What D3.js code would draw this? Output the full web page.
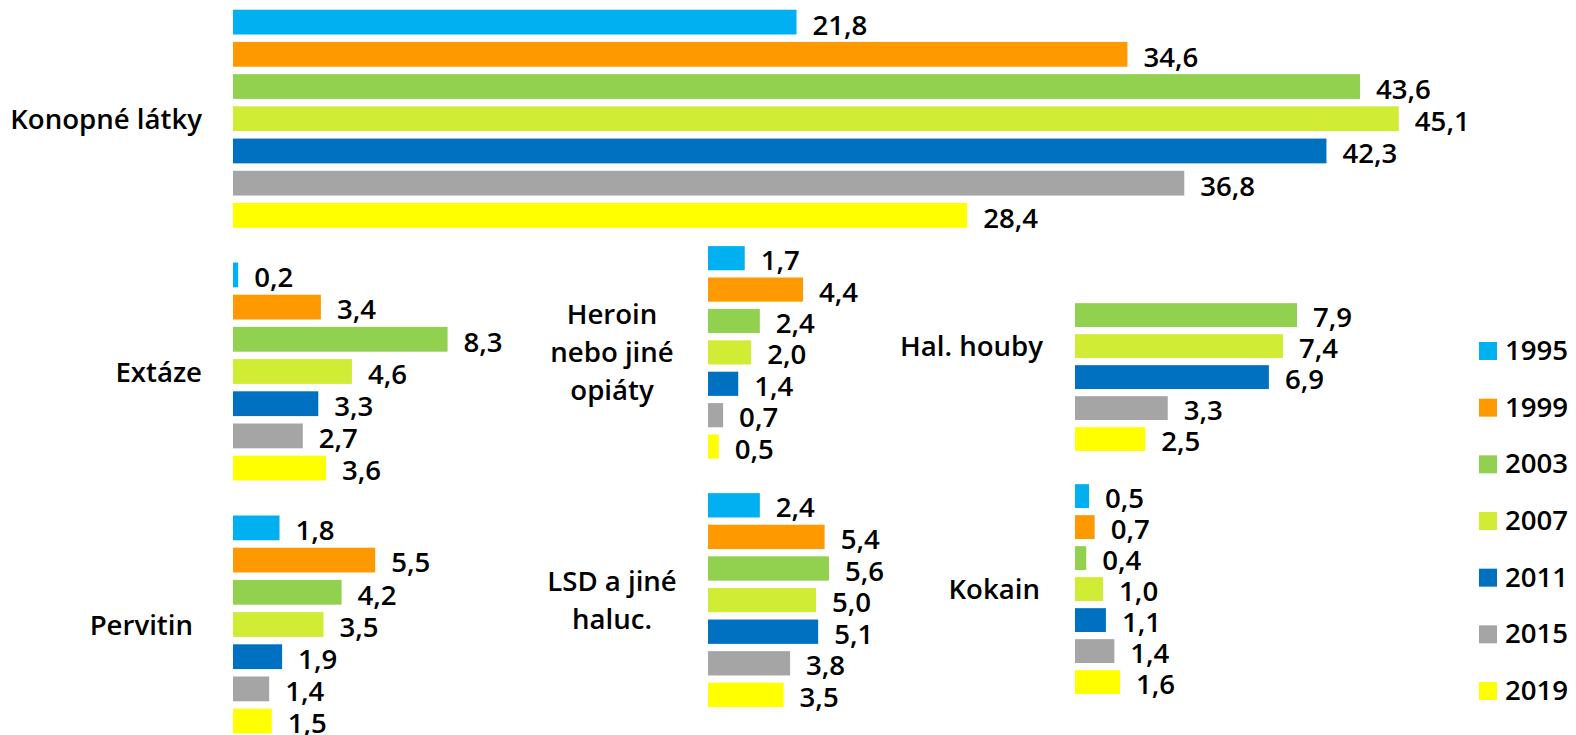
<!DOCTYPE html>
<html>
<head>
<meta charset="utf-8">
<script src="https://cdn.jsdelivr.net/npm/d3@7"></script>
<style>
  body { margin: 0; background: #fff; }
  svg text { font-family: "Open Sans", "Noto Sans", sans-serif; font-weight: 600; fill: #000; }
</style>
</head>
<body>
<div id="chart"></div>
<script>
const width = 1576,
  height = 735,
  fontSize = 27.6;

const years = ["1995", "1999", "2003", "2007", "2011", "2015", "2019"];
const colors = ["#00b0f0", "#ff9900", "#92d050", "#d0ec34", "#0070c0", "#a5a5a5", "#ffff00"];

const konopne = [21.8, 34.6, 43.6, 45.1, 42.3, 36.8, 28.4];
const extaze = [0.2, 3.4, 8.3, 4.6, 3.3, 2.7, 3.6];
const pervitin = [1.8, 5.5, 4.2, 3.5, 1.9, 1.4, 1.5];
const heroin = [1.7, 4.4, 2.4, 2.0, 1.4, 0.7, 0.5];
const lsd = [2.4, 5.4, 5.6, 5.0, 5.1, 3.8, 3.5];
const houby = [null, null, 7.9, 7.4, 6.9, 3.3, 2.5];
const kokain = [0.5, 0.7, 0.4, 1.0, 1.1, 1.4, 1.6];

// panel layout: x0 = bar start, k = px per unit, y range of the 7 year bands
const panels = [
  { name: ["Konopné látky"], values: konopne, x0: 233, k: 25.85, y: [6, 231.5], lx: 202, anchor: "end" },
  { name: ["Extáze"], values: extaze, x0: 233, k: 25.85, y: [258.8, 484.2], lx: 202, anchor: "end" },
  { name: ["Pervitin"], values: pervitin, x0: 233, k: 25.85, y: [511.8, 737.2], lx: 193, anchor: "end" },
  { name: ["Heroin", "nebo jiné", "opiáty"], values: heroin, x0: 708, k: 21.6, y: [242.5, 462.3], lx: 612, anchor: "middle" },
  { name: ["LSD a jiné", "haluc."], values: lsd, x0: 708, k: 21.6, y: [489.5, 710.7], lx: 612, anchor: "middle" },
  { name: ["Hal. houby"], values: houby, x0: 1075, k: 28.1, y: [237.6, 454.6], lx: 1043, anchor: "end" },
  { name: ["Kokain"], values: kokain, x0: 1075, k: 28.1, y: [480.6, 697.6], lx: 1040, anchor: "end" }
];

const color = d3.scaleOrdinal().domain(years).range(colors);
const fmt = d => d3.format(".1f")(d).replace(".", ",");

const svg = d3
  .select("#chart")
  .append("svg")
  .attr("width", width)
  .attr("height", height);

panels.forEach(p => {
  const xScale = d3
    .scaleLinear()
    .domain([0, 10])
    .range([p.x0, p.x0 + 10 * p.k]);

  const yScale = d3
    .scaleBand()
    .domain(years)
    .range(p.y)
    .paddingInner(0.23)
    .paddingOuter(0.115);

  const rows = years
    .map((yr, i) => ({ year: yr, value: p.values[i] }))
    .filter(d => d.value != null);

  const g = svg.append("g").attr("class", "panel");

  g.selectAll(".bar")
    .data(rows)
    .join("rect")
    .attr("class", "bar")
    .attr("x", xScale(0))
    .attr("y", d => yScale(d.year))
    .attr("width", d => xScale(d.value) - xScale(0))
    .attr("height", yScale.bandwidth())
    .attr("fill", d => color(d.year));

  g.selectAll(".val")
    .data(rows)
    .join("text")
    .attr("class", "val")
    .attr("x", d => xScale(d.value) + 16)
    .attr("y", d => yScale(d.year) + yScale.bandwidth())
    .attr("font-size", fontSize)
    .text(d => fmt(d.value));

  const cy = (p.y[0] + p.y[1]) / 2;
  const n = p.name.length;
  g.append("text")
    .attr("class", "cat")
    .attr("text-anchor", p.anchor)
    .attr("font-size", fontSize)
    .selectAll("tspan")
    .data(p.name)
    .join("tspan")
    .attr("x", p.lx)
    .attr("y", (d, i) => cy + 10 + (i - (n - 1) / 2) * 38)
    .text(d => d);
});

// legend
const legendY = d3.scalePoint().domain(years).range([342, 682]);

const legend = svg
  .append("g")
  .attr("class", "legend")
  .selectAll("g")
  .data(years)
  .join("g")
  .attr("transform", d => `translate(1479,${legendY(d)})`);

legend
  .append("rect")
  .attr("width", 18)
  .attr("height", 18)
  .attr("fill", d => color(d));

legend
  .append("text")
  .attr("x", 26)
  .attr("y", 18)
  .attr("font-size", fontSize)
  .text(d => d);
</script>
</body>
</html>
